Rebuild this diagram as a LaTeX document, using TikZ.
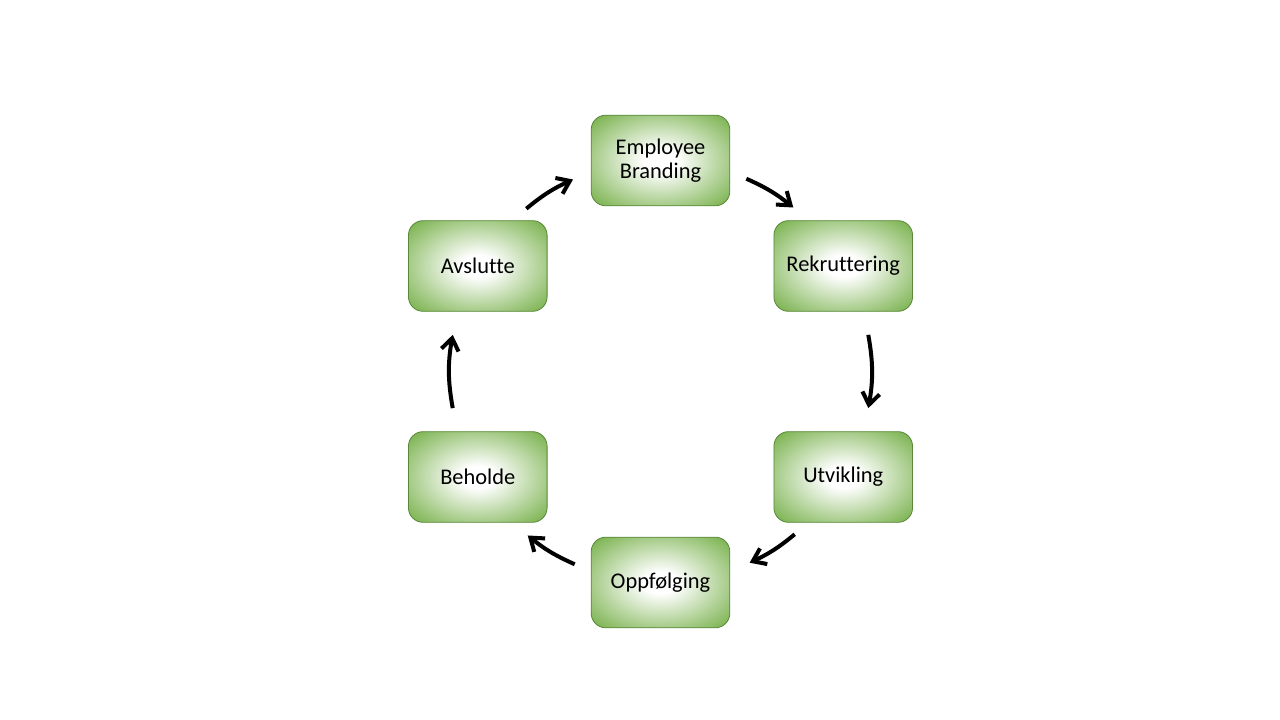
\documentclass[tikz,border=0pt]{standalone}
\usepackage{fontspec}
\setmainfont{Carlito}[Ligatures={NoCommon}]
\usepackage{tikz}
\usetikzlibrary{
    calc,
    arrows.meta,
    shapes.misc
}
\definecolor{stagegreen}{RGB}{122,178,78}
\definecolor{stageedge}{RGB}{88,136,56}
\pgfdeclareradialshading{stageglow}{\pgfpoint{0bp}{0bp}}{%
    color(0bp)=(white); color(6bp)=(white);
    color(34bp)=(stagegreen); color(50bp)=(stagegreen)}
\tikzset{
    stage/.style={
        rectangle, rounded corners=11pt,
        draw=stageedge, line width=0.6pt,
        shading=stageglow,
        minimum width=104pt, minimum height=68pt,
        align=center, text=black,
        font=\fontsize{16.8}{17.5}\selectfont
    },
    cyclearrow/.style={
        line width=3pt, black,
        -{Straight Barb[length=9pt,width=13pt]}
    }
}

\begin{document}
\begin{tikzpicture}[x=0.75pt,y=0.75pt]
    \useasboundingbox (0,0) rectangle (1280,720);
    \coordinate (hub) at (660.5,348.5);
    % the six stages round the cycle
    \foreach \name/\ang/\txt in {
        emp/90/{Employee\\Branding},
        rek/30/Rekruttering,
        utv/-30/Utvikling,
        opp/-90/Oppfølging,
        beh/-150/Beholde,
        avs/150/Avslutte}
        \node[stage] (\name) at ($(hub)+(\ang:211)$) {\txt};
    % arrows between the stages
    \foreach \i/\s/\e in {1/66/51, 2/10/-10, 3/-50.5/-65, 4/-114/-129, 5/190/170, 6/129.5/114.5}{
        \coordinate (from\i) at ($(hub)+(\s:211)$);
        \coordinate (to\i) at ($(hub)+(\e:211)$);
        \pgfmathsetmacro{\bend}{(\s-\e)/2}
        \draw[cyclearrow] (from\i) to[bend left=\bend] (to\i);
    }
\end{tikzpicture}
\end{document}
